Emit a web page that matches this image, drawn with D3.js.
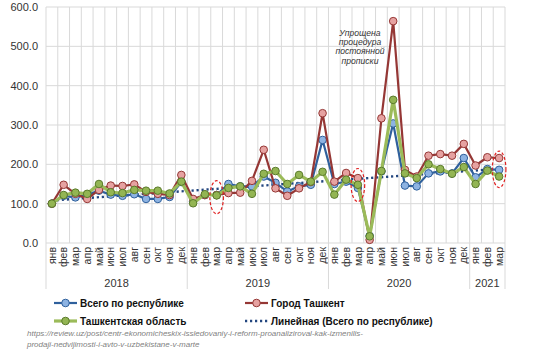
<!DOCTYPE html>
<html><head><meta charset="utf-8">
<script src="https://cdn.jsdelivr.net/npm/d3@7"></script>
<style>body{margin:0;background:#fff;}svg{display:block;font-family:"Liberation Sans",Arial,sans-serif;}</style>
</head><body>
<svg id="c" width="560" height="362"></svg>
<script>
const months = ["янв","фев","мар","апр","май","июн","июл","авг","сен","окт","ноя","дек"];
const years = ["2018","2019","2020","2021"];
const yearMonthCounts = [12,12,12,3];
const yTicks = [0,100,200,300,400,500,600];
const totalRep = [100,120,116,123,133,123,120,124,112,112,117,155,
                  106,122,122,150,144,144,169,153,131,144,148,262,
                  150,156,140,18,182,304,146,144,177,182,177,216,
                  167,188,186];
const tashkentCity = [100,148,125,112,135,146,145,149,130,125,122,173,
                      112,122,122,127,128,158,237,139,120,139,155,330,
                      156,178,165,8,317,564,186,169,222,226,222,252,
                      197,218,216];
const tashkentReg = [100,122,128,125,150,129,127,135,133,133,126,156,
                     101,124,121,140,144,125,176,183,150,173,156,181,
                     123,161,148,17,183,364,177,165,200,188,176,193,
                     150,184,169];
const seriesNames = ["Всего по республике","Город Ташкент","Ташкентская область","Линейная (Всего по республике)"];
const annotationLines = ["Упрощена","процедура","постоянной","прописки"];
const highlighted = [14,26,38];
const sourceLines = ["https://review.uz/post/centr-ekonomicheskix-issledovaniy-i-reform-proanaliziroval-kak-izmenilis-",
                     "prodaji-nedvijimosti-i-avto-v-uzbekistane-v-marte"];

const labels = [];
years.forEach((y,yi)=>{for(let m=0;m<yearMonthCounts[yi];m++) labels.push(months[m]);});
const idx = d3.range(labels.length);

const svg = d3.select("#c");
const L=46,R=505,T=7,B=243;
const x = d3.scaleBand().domain(idx).range([L,R]).padding(0);
const y = d3.scaleLinear().domain([0,600]).range([B,T]);
const cx = i => x(i)+x.bandwidth()/2;
const grid = "#d9d9d9";

svg.append("g").selectAll("line").data(yTicks).join("line")
  .attr("x1",L).attr("x2",R).attr("y1",d=>y(d)).attr("y2",d=>y(d))
  .attr("stroke",grid).attr("stroke-width",1);
svg.append("g").selectAll("line").data(d3.range(labels.length+1)).join("line")
  .attr("x1",i=>L+i*x.bandwidth()).attr("x2",i=>L+i*x.bandwidth())
  .attr("y1",T).attr("y2",B).attr("stroke",grid).attr("stroke-width",1);

const yAxis = d3.axisLeft(y).tickValues(yTicks).tickFormat(d3.format(".1f")).tickSize(0).tickPadding(8);
const yg = svg.append("g").attr("transform",`translate(${L},0)`).call(yAxis);
yg.select(".domain").remove();
yg.selectAll("text").attr("font-size",11).attr("fill","#333").attr("font-family","Liberation Sans, Arial, sans-serif");

const xAxis = d3.axisBottom(x).tickFormat(i=>labels[i]).tickSize(0).tickPadding(0);
const xg = svg.append("g").attr("transform",`translate(0,${B})`).call(xAxis);
xg.select(".domain").remove();
xg.selectAll("text").attr("font-size",10.5).attr("fill","#333").attr("font-family","Liberation Sans, Arial, sans-serif")
  .attr("transform","rotate(-90)").attr("text-anchor","end").attr("x",-4).attr("y",0).attr("dy","0.35em");

let acc=0; const bounds=[0];
yearMonthCounts.forEach(c=>{acc+=c;bounds.push(acc);});
svg.append("g").selectAll("line").data(bounds).join("line")
  .attr("x1",b=>L+b*x.bandwidth()).attr("x2",b=>L+b*x.bandwidth())
  .attr("y1",B).attr("y2",289).attr("stroke",grid).attr("stroke-width",1);
svg.append("g").selectAll("text").data(years).join("text")
  .attr("x",(d,i)=>L+(bounds[i]+bounds[i+1])/2*x.bandwidth()).attr("y",287)
  .attr("text-anchor","middle").attr("font-size",11).attr("fill","#333").text(d=>d);

const n=totalRep.length, mx=d3.mean(idx), my=d3.mean(totalRep);
const slope=d3.sum(idx,i=>(i-mx)*(totalRep[i]-my))/d3.sum(idx,i=>(i-mx)*(i-mx));
const icpt=my-slope*mx;
const trendColor="#23467f";

const styles=[
  {data:totalRep,line:"#2f609c",w:2.2,fill:"#8db3e2",stroke:"#2f609c"},
  {data:tashkentCity,line:"#953735",w:2.2,fill:"#e6a2a1",stroke:"#953735"},
  {data:tashkentReg,line:"#9bbb59",w:3.2,fill:"#93b553",stroke:"#5a7a2b"}
];
const lineGen = d3.line().x((d,i)=>cx(i)).y(d=>y(d));

svg.append("path").datum([0,n-1])
  .attr("d",d3.line().x(i=>cx(i)).y(i=>y(icpt+slope*i)))
  .attr("fill","none").attr("stroke",trendColor).attr("stroke-width",2.4).attr("stroke-dasharray","2.2,2.8");

styles.forEach(s=>{
  const g=svg.append("g");
  g.append("path").datum(s.data).attr("d",lineGen).attr("fill","none")
    .attr("stroke",s.line).attr("stroke-width",s.w).attr("stroke-linejoin","round");
  g.selectAll("circle").data(s.data).join("circle")
    .attr("cx",(d,i)=>cx(i)).attr("cy",d=>y(d)).attr("r",3.8)
    .attr("fill",s.fill).attr("stroke",s.stroke).attr("stroke-width",1);
});

const ext = i => d3.extent([totalRep[i],tashkentCity[i],tashkentReg[i]]);
svg.append("g").selectAll("ellipse").data(highlighted).join("ellipse")
  .attr("cx",i=>cx(i)).attr("cy",i=>y((ext(i)[0]+ext(i)[1])/2)+2)
  .attr("rx",6.8).attr("ry",i=>Math.max(16.5,(y(ext(i)[0])-y(ext(i)[1]))/2+9))
  .attr("fill","none").attr("stroke","#e02020").attr("stroke-width",1.2).attr("stroke-dasharray","3,2");

svg.append("g").selectAll("text").data(annotationLines).join("text")
  .attr("x",360).attr("y",(d,i)=>36+i*9.2).attr("text-anchor","middle")
  .attr("font-size",8.6).attr("font-style","italic").attr("fill","#333").text(d=>d);

const leg=[
  {name:seriesNames[0],x:54,y:303,s:styles[0]},
  {name:seriesNames[1],x:245,y:303,s:styles[1]},
  {name:seriesNames[2],x:54,y:321,s:styles[2]},
  {name:seriesNames[3],x:245,y:321,trend:true}
];
leg.forEach(l=>{
  const g=svg.append("g");
  if(l.trend){
    g.append("line").attr("x1",l.x).attr("x2",l.x+23).attr("y1",l.y).attr("y2",l.y)
      .attr("stroke",trendColor).attr("stroke-width",2.4).attr("stroke-dasharray","2.2,2.8");
  } else {
    g.append("line").attr("x1",l.x).attr("x2",l.x+23).attr("y1",l.y).attr("y2",l.y)
      .attr("stroke",l.s.line).attr("stroke-width",l.s.w);
    g.append("circle").attr("cx",l.x+11.5).attr("cy",l.y).attr("r",3.8)
      .attr("fill",l.s.fill).attr("stroke",l.s.stroke);
  }
  g.append("text").attr("x",l.x+26).attr("y",l.y+4).attr("font-size",10).attr("font-weight","bold")
    .attr("fill","#111").text(l.name);
});

svg.append("g").selectAll("text").data(sourceLines).join("text")
  .attr("x",27).attr("y",(d,i)=>336+i*10.8).attr("font-size",8).attr("font-style","italic")
  .attr("fill","#7f7f7f").text(d=>d);
</script>
</body></html>
